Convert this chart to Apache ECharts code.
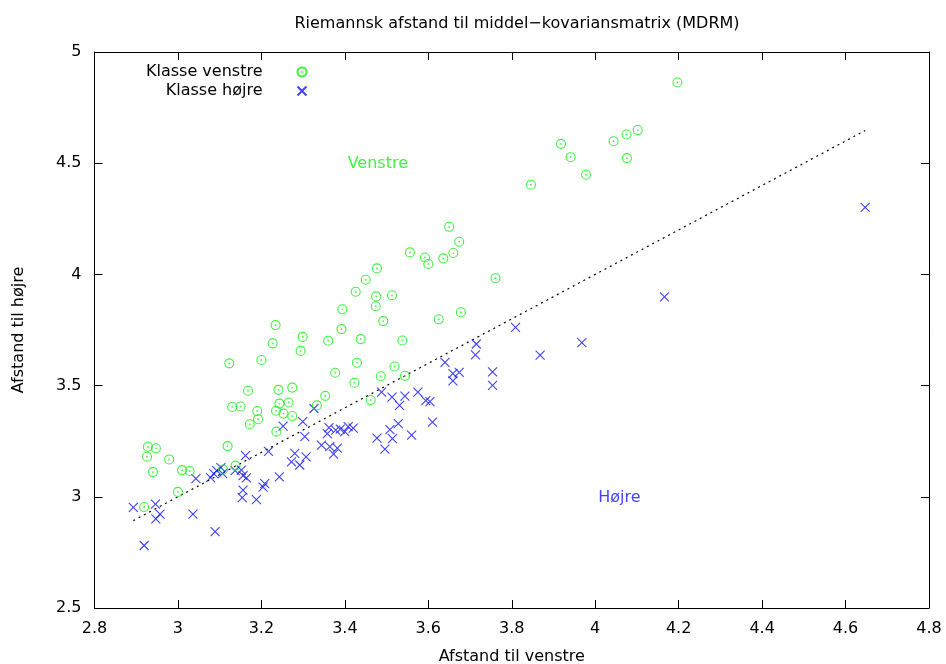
<!DOCTYPE html>
<html>
<head>
<meta charset="utf-8">
<script src="https://cdn.jsdelivr.net/npm/echarts@6/dist/echarts.min.js"></script>
<style>html,body{margin:0;padding:0;background:#fff;}#c{width:946px;height:664px;}</style>
</head>
<body>
<div id="c"></div>
<script>
const titleText = 'Riemannsk afstand til middel\u2212kovariansmatrix (MDRM)';
const xName = 'Afstand til venstre';
const yName = 'Afstand til h\u00f8jre';
const seriesNames = ['Klasse venstre', 'Klasse h\u00f8jre'];
const xTicks = [2.8, 3, 3.2, 3.4, 3.6, 3.8, 4, 4.2, 4.4, 4.6, 4.8];
const yTicks = [2.5, 3, 3.5, 4, 4.5, 5];

const venstreX = [2.928,2.947,2.926,2.979,2.940,3.119,3.010,3.028,3.138,3.108,3.000,2.919,
  3.172,3.192,3.236,3.168,3.241,3.274,3.130,3.150,3.190,3.243,3.265,3.235,
  3.253,3.274,3.123,3.200,3.227,3.234,3.299,3.294,3.353,3.333,3.377,3.360,
  3.392,3.394,3.423,3.429,3.438,3.462,3.474,3.492,3.486,3.650,3.674,3.556,
  3.592,3.600,3.636,3.660,3.477,3.450,3.426,3.475,3.513,3.625,3.678,3.538,
  3.519,3.544,3.761,4.197,3.918,3.941,4.044,4.075,4.102,4.076,3.978,3.846];
const venstreY = [3.225,3.218,3.180,3.168,3.111,3.228,3.120,3.116,3.140,3.122,3.022,2.954,
  3.326,3.349,3.293,3.477,3.481,3.491,3.404,3.406,3.386,3.419,3.424,3.387,
  3.374,3.363,3.600,3.615,3.690,3.772,3.719,3.656,3.454,3.411,3.558,3.702,
  3.754,3.843,3.513,3.603,3.709,3.435,3.857,3.790,3.542,4.214,4.147,4.099,
  4.076,4.047,4.072,4.096,4.027,3.976,3.922,3.901,3.906,3.798,3.830,3.703,
  3.586,3.544,3.983,4.863,4.587,4.527,4.599,4.629,4.649,4.523,4.448,4.403];

const hojreX = [2.893,2.946,2.947,2.957,2.919,3.036,3.089,3.043,3.078,3.086,3.093,3.103,
  3.107,3.137,3.152,3.156,3.164,3.162,3.217,3.252,3.156,3.154,3.188,3.208,
  3.204,3.243,3.272,3.280,3.307,3.292,3.304,3.299,3.326,3.362,3.378,3.389,
  3.400,3.408,3.420,3.358,3.344,3.364,3.382,3.373,3.488,3.513,3.531,3.544,
  3.575,3.594,3.604,3.528,3.508,3.514,3.477,3.496,3.560,3.610,3.640,3.659,
  3.674,3.659,3.715,3.713,3.754,3.754,3.809,3.868,3.968,4.166,4.647];
const hojreY = [2.952,2.967,2.901,2.922,2.781,2.922,2.843,3.082,3.086,3.104,3.118,3.131,
  3.104,3.118,3.120,3.095,3.085,3.185,3.204,3.318,3.030,2.996,2.987,3.059,
  3.044,3.090,3.157,3.195,3.180,3.143,3.271,3.338,3.397,3.311,3.300,3.304,
  3.293,3.316,3.309,3.284,3.232,3.226,3.219,3.192,3.471,3.448,3.411,3.453,
  3.471,3.432,3.428,3.329,3.302,3.262,3.264,3.214,3.277,3.336,3.604,3.554,
  3.559,3.521,3.687,3.638,3.562,3.501,3.762,3.637,3.693,3.899,4.301];

// diagonal decision line y = x over data range
const lineX = [2.893, 4.647];
const lineY = [2.893, 4.647];

const annoText = ['Venstre', 'H\u00f8jre'];
const annoX = [3.479, 4.058];
const annoY = [4.496, 2.994];

const GREEN = '#11ee11';
const BLUE = '#1111ff';
const FONT = 'DejaVu Sans';
const FS = 16;

const circleDot = 'path://M10,0A10,10,0,1,1,-10,0A10,10,0,1,1,10,0ZM0.8,0A0.8,0.8,0,1,1,-0.8,0A0.8,0.8,0,1,1,0.8,0Z';
const cross = 'path://M-10,-10L10,10M-10,10L10,-10';

const zip = (a, b) => a.map((v, i) => [v, b[i]]);

const chart = echarts.init(document.getElementById('c'), null, {renderer: 'canvas'});
const axisCommon = {
  type: 'value',
  axisLine: {show: true, onZero: false, lineStyle: {color: '#000', width: 1}},
  axisTick: {show: true, inside: true, length: 8, lineStyle: {color: '#000', width: 1}},
  splitLine: {show: false},
};
const fmt = v => String(Math.round(v * 10) / 10);
const option = {
  animation: false,
  backgroundColor: '#fff',
  textStyle: {fontFamily: FONT},
  title: {
    text: titleText, left: 512, top: 11, textAlign: 'center',
    textStyle: {fontFamily: FONT, fontSize: FS, fontWeight: 'normal', color: '#000'}
  },
  grid: {left: 94.5, right: 17, top: 52, bottom: 56, containLabel: false, outerBoundsMode: 'none'},
  legend: [
    {data: [{name: seriesNames[0], icon: circleDot}], orient: 'vertical', align: 'right', right: 633.5, top: 59,
     itemWidth: 9, itemHeight: 9, selectedMode: false,
     textStyle: {fontFamily: FONT, fontSize: FS, color: '#000', padding: [0, 30, 0, 0]}},
    {data: [{name: seriesNames[1], icon: cross}], orient: 'vertical', align: 'right', right: 633.5, top: 78,
     itemWidth: 9, itemHeight: 9, selectedMode: false,
     textStyle: {fontFamily: FONT, fontSize: FS, color: '#000', padding: [0, 30, 0, 0]}}
  ],
  xAxis: [
    Object.assign({}, axisCommon, {
      min: xTicks[0], max: xTicks[xTicks.length - 1], interval: 0.2, position: 'bottom',
      name: xName, nameLocation: 'middle', nameGap: 41,
      nameTextStyle: {fontFamily: FONT, fontSize: FS, color: '#000'},
      axisLabel: {fontFamily: FONT, fontSize: FS, color: '#000', margin: 13, formatter: fmt}
    }),
    Object.assign({}, axisCommon, {
      min: xTicks[0], max: xTicks[xTicks.length - 1], interval: 0.2, position: 'top',
      axisLabel: {show: false}
    })
  ],
  yAxis: [
    Object.assign({}, axisCommon, {
      min: yTicks[0], max: yTicks[yTicks.length - 1], interval: 0.5, position: 'left',
      name: yName, nameLocation: 'middle', nameGap: 68, nameRotate: 90,
      nameTextStyle: {fontFamily: FONT, fontSize: FS, color: '#000'},
      axisLabel: {fontFamily: FONT, fontSize: FS, color: '#000', margin: 13, formatter: fmt}
    }),
    Object.assign({}, axisCommon, {
      min: yTicks[0], max: yTicks[yTicks.length - 1], interval: 0.5, position: 'right',
      axisLabel: {show: false}
    })
  ],
  series: [
    {
      name: 'y = x', type: 'line', data: zip(lineX, lineY), symbol: 'none', silent: true,
      lineStyle: {color: '#000', width: 1.2, type: [2, 4]}, z: 1
    },
    {
      name: seriesNames[0], type: 'scatter', data: zip(venstreX, venstreY),
      symbol: circleDot, symbolSize: 9,
      itemStyle: {color: 'rgba(0,0,0,0)', borderColor: GREEN, borderWidth: 1.1}, z: 3
    },
    {
      name: seriesNames[1], type: 'scatter', data: zip(hojreX, hojreY),
      symbol: cross, symbolSize: 9,
      itemStyle: {color: 'rgba(0,0,0,0)', borderColor: BLUE, borderWidth: 1.1}, z: 2
    },
    {
      name: 'anno', type: 'scatter', silent: true, symbolSize: 0,
      data: annoText.map((t, i) => ({
        name: t, value: [annoX[i], annoY[i]],
        label: {show: true, position: 'inside', formatter: t, fontFamily: FONT, fontSize: FS,
          color: i === 0 ? GREEN : BLUE}
      }))
    }
  ]
};
chart.setOption(option);
</script>
</body>
</html>
